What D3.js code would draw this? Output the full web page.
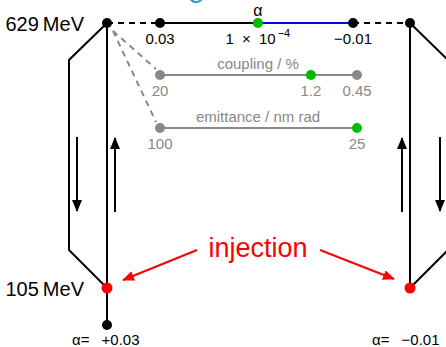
<!DOCTYPE html>
<html>
<head>
<meta charset="utf-8">
<script src="https://cdn.jsdelivr.net/npm/d3@7"></script>
<style>
  body { margin: 0; background: #fff; }
  text { font-family: "Liberation Sans", Arial, sans-serif; }
</style>
</head>
<body>
<svg id="chart" width="446" height="347"></svg>
<script>
var energies = [629, 105];
var energyLabels = ["629\u2009MeV", "105\u2009MeV"];
var alphaEnds = ["\u03b1= +0.03", "\u03b1= \u22120.01"];

// slider positions (fraction along the slider) and labels
var alphaPos = [0, 0.497, 0.98];
var alphaLabels = ["0.03", "1 \u00d7 10^\u22124", "\u22120.01"];
var alphaColors = ["#000", "#00bb00", "#000"];
var couplingPos = [0, 0.766, 1];
var couplingLabels = ["20", "1.2", "0.45"];
var couplingColors = ["#888", "#00bb00", "#888"];
var emittancePos = [0, 1];
var emittanceLabels = ["100", "25"];
var emittanceColors = ["#888", "#00bb00"];

var svg = d3.select("#chart");

var y = d3.scaleLinear().domain([105, 629]).range([288, 23]);
var sx = d3.scaleLinear().domain([0, 1]).range([160, 357]);
var ramps = [107, 410];

var defs = svg.append("defs");
function marker(id, color) {
    defs.append("marker")
        .attr("id", id)
        .attr("viewBox", "0 0 12 10")
        .attr("refX", 11).attr("refY", 5)
        .attr("markerWidth", 12).attr("markerHeight", 10)
        .attr("markerUnits", "userSpaceOnUse")
        .attr("orient", "auto")
        .append("path")
        .attr("d", "M0,0 L12,5 L0,10 Z")
        .attr("fill", color);
}
marker("ah", "#000");
marker("ahr", "red");

// blue title descender peeking at the top
svg.append("text").attr("x", 188).attr("y", -3)
    .attr("font-size", 30).attr("fill", "#2a9ae0").text("g");

var yTop = y(629), yBot = y(105);

// ramp outlines
ramps.forEach(function(rx, i) {
    var dir = i === 0 ? -1 : 1;
    svg.append("path")
        .attr("d", d3.line()([[rx, yTop], [rx + dir * 38, yTop + 37], [rx + dir * 38, yBot - 38], [rx, yBot]]))
        .attr("fill", "none").attr("stroke", "#000").attr("stroke-width", 2);
    svg.append("line")
        .attr("x1", rx).attr("x2", rx).attr("y1", yTop).attr("y2", i === 0 ? 325 : yBot)
        .attr("stroke", "#000").attr("stroke-width", 2);
});

// direction arrows
var arrows = [[77, 137, 211], [115, 212, 138], [402, 212, 138], [440, 137, 211]];
arrows.forEach(function(a) {
    svg.append("line")
        .attr("x1", a[0]).attr("x2", a[0]).attr("y1", a[1]).attr("y2", a[2])
        .attr("stroke", "#000").attr("stroke-width", 2)
        .attr("marker-end", "url(#ah)");
});

// alpha slider on top
svg.append("line").attr("x1", ramps[0]).attr("x2", sx(alphaPos[0])).attr("y1", yTop).attr("y2", yTop)
    .attr("stroke", "#000").attr("stroke-width", 2).attr("stroke-dasharray", "6,5");
svg.append("line").attr("x1", sx(alphaPos[2])).attr("x2", ramps[1]).attr("y1", yTop).attr("y2", yTop)
    .attr("stroke", "#000").attr("stroke-width", 2).attr("stroke-dasharray", "6,5");
svg.append("line").attr("x1", sx(alphaPos[0])).attr("x2", sx(alphaPos[1])).attr("y1", yTop).attr("y2", yTop)
    .attr("stroke", "#000").attr("stroke-width", 2);
svg.append("line").attr("x1", sx(alphaPos[1])).attr("x2", sx(alphaPos[2])).attr("y1", yTop).attr("y2", yTop)
    .attr("stroke", "#0000ee").attr("stroke-width", 2);

// dashed gray guides
[75, 128].forEach(function(gy) {
    svg.append("line").attr("x1", 113).attr("y1", 31).attr("x2", sx(0) - 4).attr("y2", gy - 6)
        .attr("stroke", "#888").attr("stroke-width", 2).attr("stroke-dasharray", "6,5");
});

function slider(pos, labels, colors, yy, title, lineColor, labelColor) {
    if (lineColor) {
        svg.append("line").attr("x1", sx(pos[0])).attr("x2", sx(pos[pos.length - 1]))
            .attr("y1", yy).attr("y2", yy).attr("stroke", lineColor).attr("stroke-width", 2);
    }
    if (title) {
        svg.append("text").attr("x", 258).attr("y", yy - 6).attr("text-anchor", "middle")
            .attr("font-size", 15).attr("fill", "#888").text(title);
    }
    svg.selectAll(null).data(pos).enter().append("circle")
        .attr("cx", function(d) { return sx(d); }).attr("cy", yy).attr("r", 5)
        .attr("fill", function(d, i) { return colors[i]; });
    svg.selectAll(null).data(pos).enter().append("text")
        .attr("x", function(d) { return sx(d); }).attr("y", yy + 21)
        .attr("text-anchor", "middle").attr("font-size", 15)
        .attr("word-spacing", 4)
        .attr("fill", labelColor)
        .each(function(d, i) {
            var parts = labels[i].split("^");
            var t = d3.select(this);
            t.append("tspan").text(parts[0]);
            if (parts[1]) {
                t.append("tspan").attr("dx", 2).attr("dy", -7).attr("font-size", 11).text(parts[1]);
            }
        });
}

slider(alphaPos, alphaLabels, alphaColors, yTop, null, null, "#000");
svg.append("text").attr("x", sx(alphaPos[1])).attr("y", 16).attr("text-anchor", "middle")
    .attr("font-size", 16).text("\u03b1");
slider(couplingPos, couplingLabels, couplingColors, 75, "coupling / %", "#888", "#888");
slider(emittancePos, emittanceLabels, emittanceColors, 128, "emittance / nm rad", "#888", "#888");

// ramp end nodes
ramps.forEach(function(rx, i) {
    svg.append("circle").attr("cx", rx).attr("cy", yTop).attr("r", 5).attr("fill", "#000");
    svg.append("circle").attr("cx", rx).attr("cy", yBot).attr("r", 5.5).attr("fill", "red");
});
svg.append("circle").attr("cx", ramps[0]).attr("cy", 325).attr("r", 5).attr("fill", "#000");

// energy labels
energies.forEach(function(e, i) {
    svg.append("text").attr("x", 84).attr("y", y(e) + 8).attr("text-anchor", "end")
        .attr("font-size", 20).text(energyLabels[i]);
});

// alpha end labels
svg.append("text").attr("x", 72).attr("y", 345).attr("font-size", 15)
    .attr("word-spacing", 8).text(alphaEnds[0]);
svg.append("text").attr("x", 372).attr("y", 345).attr("font-size", 15)
    .attr("word-spacing", 8).text(alphaEnds[1]);

// injection
svg.append("text").attr("x", 258).attr("y", 257).attr("text-anchor", "middle")
    .attr("font-size", 27).attr("fill", "red").text("injection");
svg.append("line").attr("x1", 197).attr("y1", 250).attr("x2", 123).attr("y2", 280)
    .attr("stroke", "red").attr("stroke-width", 2).attr("marker-end", "url(#ahr)");
svg.append("line").attr("x1", 320).attr("y1", 250).attr("x2", 394).attr("y2", 279)
    .attr("stroke", "red").attr("stroke-width", 2).attr("marker-end", "url(#ahr)");
</script>
</body>
</html>
